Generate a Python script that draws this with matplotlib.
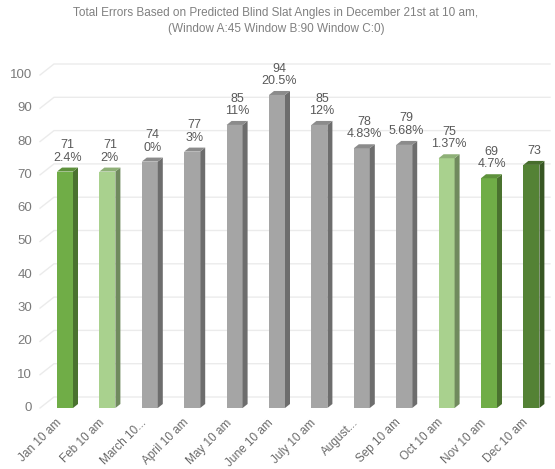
import numpy as np
import matplotlib.pyplot as plt
from matplotlib.patches import Polygon
from matplotlib.colors import to_rgb

# chart values
months = ["Jan 10 am", "Feb 10 am", "March 10...", "April 10 am", "May 10 am",
          "June 10 am", "July 10 am", "August...", "Sep 10 am", "Oct 10 am",
          "Nov 10 am", "Dec 10 am"]
errors = [71, 71, 74, 77, 85, 94, 85, 78, 79, 75, 69, 73]
pct_labels = ["2.4%", "2%", "0%", "3%", "11%", "20.5%", "12%", "4.83%",
              "5.68%", "1.37%", "4.7%", ""]
y_ticks = [0, 10, 20, 30, 40, 50, 60, 70, 80, 90, 100]

GREEN = "#70AD47"
LIGHT = "#A9D18E"
GRAY = "#A5A5A5"
DARK = "#548235"
bar_colors = [GREEN, LIGHT, GRAY, GRAY, GRAY, GRAY, GRAY, GRAY, GRAY, LIGHT, GREEN, DARK]

plt.rcParams['font.family'] = ['Liberation Sans', 'DejaVu Sans']

W, H = 555, 469
fig = plt.figure(figsize=(W / 100, H / 100), dpi=100)
# axes in pixel terms: x 40..550, y 408 (value 0) .. 60
ax = fig.add_axes([40 / W, (H - 408) / H, 510 / W, 348 / H])
px_x = 42.4   # px per category
px_y = 3.33   # px per unit
ax.set_xlim(-25 / px_x, 485 / px_x)
ax.set_ylim(0, 348 / px_y)
ax.axis('off')

# back wall gridlines with a small perspective slant on the left
gdx, gdy = 14 / px_x, 11 / px_y
x0, x1 = ax.get_xlim()
for v in y_ticks:
    ax.plot([x0, x0 + gdx, x1], [v, v + gdy, v + gdy], color="#EBEBEB",
            lw=1, clip_on=False, zorder=1)
    ax.text(x0 - 8 / px_x, v, str(v), ha='right', va='center',
            fontsize=9.5, color="#7A7A7A")

# 3d-ish columns
bw = 16 / px_x
ddx, ddy = 5 / px_x, 4 / px_y


def shade(c, f):
    r, g, b = to_rgb(c)
    return (r * f, g * f, b * f)


for i, (v, c) in enumerate(zip(errors, bar_colors)):
    xl, xr = i - bw / 2, i + bw / 2
    ax.bar(i, v, width=bw, color=c, zorder=3)
    side = Polygon([(xr, 0), (xr, v), (xr + ddx, v + ddy), (xr + ddx, ddy)],
                   closed=True, color=shade(c, 0.66), lw=0, zorder=3)
    top = Polygon([(xl, v), (xr, v), (xr + ddx, v + ddy), (xl + ddx, v + ddy)],
                  closed=True, color=shade(c, 0.84), lw=0, zorder=3)
    ax.add_patch(side)
    ax.add_patch(top)
    lab = str(v) if pct_labels[i] == "" else f"{v}\n{pct_labels[i]}"
    ax.text(i + ddx / 2, v + ddy + 1.2, lab, ha='center', va='bottom',
            fontsize=9, color="#595959", linespacing=1.05, zorder=4)
    ax.text(i - 5 / px_x, -13 / px_y, months[i], rotation=45, ha='right',
            va='center', rotation_mode='anchor', fontsize=8.5, color="#6A6A6A")

fig.text(0.497, 1 - 13 / H, "Total Errors Based on Predicted Blind Slat Angles in December 21st at 10 am,",
         ha='center', va='center', fontsize=8.5, color="#808080")
fig.text(0.497, 1 - 29 / H, "(Window A:45 Window B:90 Window C:0)",
         ha='center', va='center', fontsize=8.5, color="#808080")

fig.savefig("out.png", dpi=100)
